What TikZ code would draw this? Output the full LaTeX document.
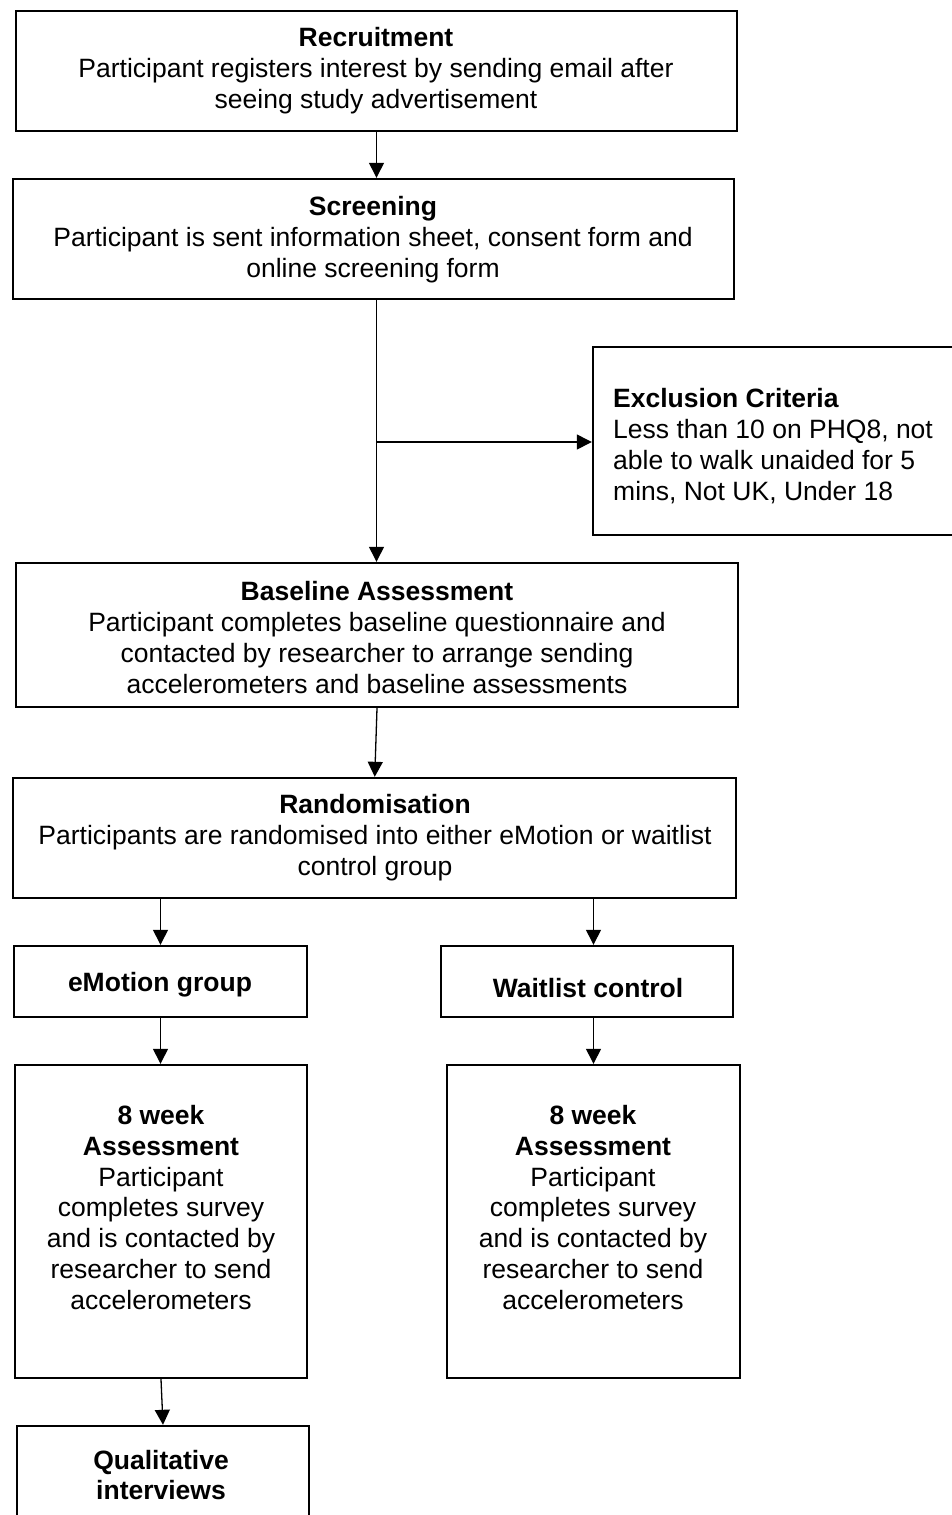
\documentclass[tikz,border=0pt]{standalone}
\usepackage{fontspec}
\setmainfont{Liberation Sans}
\usetikzlibrary{arrows.meta}

\begin{document}
\begin{tikzpicture}[x=1pt,y=-1pt,
  box/.style={draw, line width=2.4pt, rectangle, inner sep=0pt},
  txt/.style={align=center, inner sep=0pt, font=\fontsize{26.5}{30.8}\selectfont},
  flow/.style={line width=1.3pt, -{Triangle[length=15pt,width=15pt]}}
]
\useasboundingbox (0,0) rectangle (952,1515);

% boxes
\node[box, minimum width=721pt, minimum height=120pt] (rec)  at (376.5,71) {};
\node[box, minimum width=721pt, minimum height=120pt] (scr)  at (373.5,239) {};
\node[box, minimum width=407pt, minimum height=188pt] (exc)  at (796.5,441) {};
\node[box, minimum width=722pt, minimum height=144pt] (base) at (377,635) {};
\node[box, minimum width=723pt, minimum height=120pt] (rand) at (374.75,838) {};
\node[box, minimum width=293pt, minimum height=71pt]  (emo)  at (160.5,981.5) {};
\node[box, minimum width=292pt, minimum height=71pt]  (wait) at (587,981.5) {};
\node[box, minimum width=292pt, minimum height=313pt] (wk1)  at (161,1221.5) {};
\node[box, minimum width=293pt, minimum height=313pt] (wk2)  at (593.5,1221.5) {};
\node[box, minimum width=292pt, minimum height=135pt] (qual) at (163,1493.5) {};

% texts
\node[txt] (rec-t) at (376,70.5) {\textbf{Recruitment}\\Participant registers interest by sending email after\\seeing study advertisement};
\node[txt] (scr-t) at (373,239.5) {\textbf{Screening}\\Participant is sent information sheet, consent form and\\online screening form};
\node[txt, align=left, anchor=west] (exc-t) at (613,446) {\textbf{Exclusion Criteria}\\Less than 10 on PHQ8, not\\able to walk unaided for 5\\mins, Not UK, Under 18};
\node[txt] (base-t) at (377,637.5) {\textbf{Baseline Assessment}\\Participant completes baseline questionnaire and\\contacted by researcher to arrange sending\\accelerometers and baseline assessments};
\node[txt] (rand-t) at (375,837.5) {\textbf{Randomisation}\\Participants are randomised into either eMotion or waitlist\\control group};
\node[txt] (emo-t) at (160,985) {\textbf{eMotion group}};
\node[txt] (wait-t) at (588,988) {\textbf{Waitlist control}};
\node[txt] (wk1-t) at (161,1207.5) {\textbf{8 week}\\\textbf{Assessment}\\Participant\\completes survey\\and is contacted by\\researcher to send\\accelerometers};
\node[txt] (wk2-t) at (593,1207.5) {\textbf{8 week}\\\textbf{Assessment}\\Participant\\completes survey\\and is contacted by\\researcher to send\\accelerometers};
\node[txt] (qual-t) at (161,1475) {\textbf{Qualitative}\\\textbf{interviews}};

% connectors
\coordinate (split) at (376.5,442);
\draw[flow] (split |- rec.south) -- (split |- scr.north);
\draw[flow] (split |- scr.south) -- (split |- base.north);
\draw[flow] (split) -- (exc.west |- split);
\draw[flow] (base.south) -- (rand.north);
\draw[flow] (emo.north |- rand.south) -- (emo.north);
\draw[flow] (wk2.north |- rand.south) -- (wk2.north |- wait.north);
\draw[flow] (emo.south) -- (emo.south |- wk1.north);
\draw[flow] (wk2.north |- wait.south) -- (wk2.north);
\draw[flow] (wk1.south) -- (qual.north);
\end{tikzpicture}
\end{document}
